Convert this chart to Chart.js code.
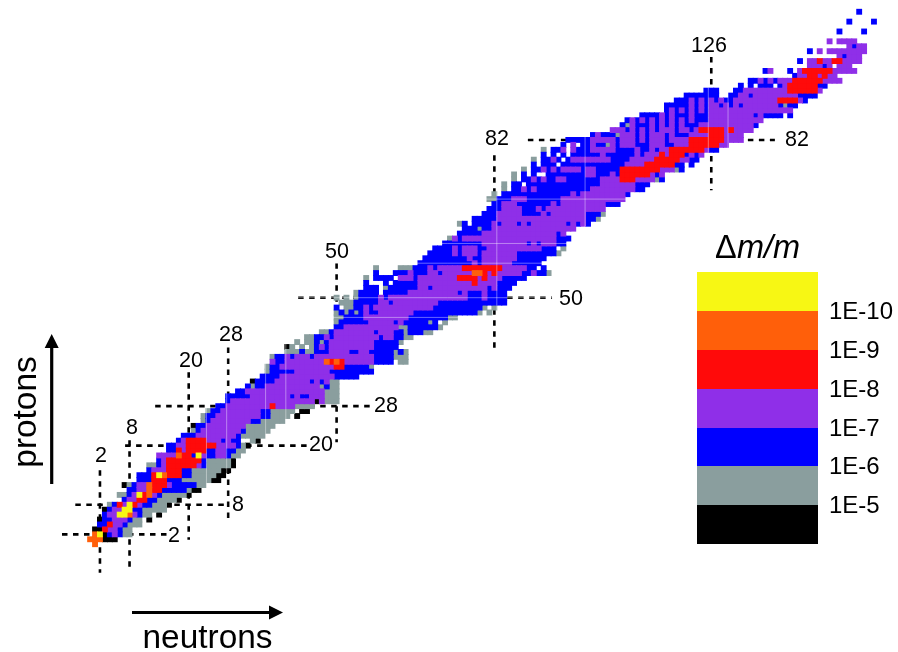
<!DOCTYPE html>
<html>
<head>
<meta charset="utf-8">
<style>
html, body { margin: 0; padding: 0; background: #fff; }
canvas { display: block; }
</style>
<script src="https://cdn.jsdelivr.net/npm/chart.js@4/dist/chart.umd.min.js"></script>
</head>
<body>
<canvas id="chart" width="898" height="652"></canvas>
<script>
// one entry per proton number Z (index), runs of "<class><first N>-<last N>"
const rowsByProton = [
  'o1',
  'o0-2 k3-5',
  'o1 y2 k3 b4 p5 b6 g7-8',
  'k1-2 r3 p4-5 b6 g7-8',
  'b2-3 r4 p5-6 b7 g8-10',
  'k2 b3-4 p5-7 b8 g9-10 k12',
  'b3 p4-5 y6-7 o8 p9 b10 g11-12 k14',
  'k3 b4 p5-6 y7-8 b9-10 g11-15',
  'g4 b5 r6 p7 y8 r9 p10 b11-12 g13-15 k16',
  'b7 p8-9 r10-11 b12-13 g14-17 k18',
  'g6-7 b8 p9 y10 r11 o12 p13 b14 g15-19 k20',
  'b8-9 p10-11 o12 r13-14 b15-19 g20 k21-22',
  'k7 g8 b9 p10-11 o12 r13-15 p16 b17-21 g22-23',
  'b10-12 r13-15 b16-18 g19-24 k25-26',
  'b10-12 r13 y14 o15 r16-18 b19-20 g21-25 k26-27',
  'b12 p13-15 r16-18 b19-20 g21-26 k27-28',
  'g12-13 b14 p15 r16-21 p22 b23 g24-28 k29',
  'b14 p15 r16-22 b23 g24-28 k29',
  'p14-17 o18 r19-20 b21 y22 p23 b24-25 p26-27 b28 g29-30',
  'b16-17 r18 p19 r20-23 b24-25 p26-27 b28-29 g30-31',
  'b16-17 p18-19 r20-25 p26-29 b30 g31 k32',
  'b18 p19 r20-23 p24-26 b27 p28 b29-30 g33 k34',
  'b19-21 p22-29 b30 g31-35',
  'g21 b22 p23-30 b31 g32-36',
  'k21 b22-23 p24-31 g32-37',
  'g23 b24 p25-32 b33-34 g35-39',
  'g23 b24-25 p26-34 b35-36 g37-40 k42',
  'g24 b25-26 p27-34 b35-36 g37-41 k43-44',
  'b26-27 p28-36 r37 p38-41 g42-45',
  'b28 p29-45 k46 p47 g48-50',
  'b28-32 p33-40 b41 p42 b43-44 p45-47 g48-50',
  'b30-31 p32-47 g48-50',
  'b32 g33 b34-35 p36-46 g47 b48 g49-50',
  'k33 b34-37 p38-44 b45 p46 b47 p48 g49-50',
  'b35-38 p39-49 b50-54',
  'g36 b37-41 p42-48 b49-57',
  'g36 b37-38 p39-49 r50-51 b52-56 g57',
  'p37 b38-39 p40-47 o48 r49 o50 r51 p52-57 b58-61 g63-64',
  'g37 b38-39 p40 b41 p42-44 b45 p46-57 b58-61 g62-64',
  'g40-42 b43 g44-45 b46-48 p49-52 b53-54 p55-56 b57-61 g62 b63 g64',
  'k40 g41 g43 g45 b46 p47 b48 p49-57 b58-62',
  'g42 g44-45 b46 g47 b48 p49-57 b58-62 g63',
  'g44-45 b46-47 p48 b49 p50-58 b59 p60-61 b62-63 g64-65',
  'g47-48 b49 p50-57 b58 p59-61 b62-63 g64 b65-67 g68-69',
  'b50-51 p52-62 g63-64 b65-70 g71',
  'g50 b51-56 p57-61 b62 p63 b64-68 g69 b70 g72',
  'g50-51 b52-55 p56-64 b65-72 g73-74',
  'g50 b51 g52 b53 g54 b55 p56 b57-58 p59-65 b66-78 g79 g81',
  'b50 g52-53 b54-55 p56 b57 p58-69 b70-79 g80 g82',
  'g51-53 b54-58 p59-60 b61 p62-70 b71-84',
  'g50 g52 g54 b55-58 p59 b60 p61-76 b77-79 p80 b81-84',
  'g54 b55-58 b60-64 p65-74 b75 p76 b77-79 p80 b81-84',
  'b56-58 g60 b61-66 p67-68 b69 p70-80 b81 p82 b83-85',
  'b56 b60 b62-66 p67-77 r78 p79-82 b83-86',
  'g56 b58-61 p63-65 b66 p67-74 r75-78 p79 r80 p81-83 b84-88',
  'b58 b62-64 p65 b66-68 p69-70 b71 p72-77 o78-79 r80 p81 r82 p83-87 b88-89 p90 b91-92 g93',
  'g58 g63-65 b66-68 p69 b70 p71-75 r76-83 p84-88 b89-90 b92',
  'b67-77 p78 b79 p80-85 b86-91',
  'b68-76 p77 b78-79 p80-86 b87-92',
  'b69-73 p74 b75 p76-78 b79 p80-86 b87-94 g95',
  'b70-73 p74 b75 p76-78 b79-80 p81-91 b92-94 g96',
  'b72-79 p80-88 b89 p90 b91 p92-94 b95-96',
  'g73 p74 b75 p76-94 b95-97',
  'b75-79 p80-94 b95 p96',
  'b76-78 g79 b80-81 p82-98',
  'g75 b76 b78-81 p82 b83 p84-86 b87 p88 b89 p90-96 b97 p98 b99 p100 b101',
  'b78-82 p83-100 b101-102 g103',
  'b80-82 p83-87 b88-91 p92 b93 p94-100 b101-103 g104',
  'b81-83 p84-87 b88-90 p91 b92 p93-104',
  'b82-83 p84-86 b87-93 p94 b95 p96-104 b105-107',
  'g81-82 b83-85 p86-88 b89-95 p96-108',
  'g82 b84-97 p98 b99 p100-108 b109',
  'g84 b86-87 p88 b89 p90 b91-101 p102-110 b111-112',
  'g84 b86-87 b89-103 p104-110 b111-113',
  'g86 b88-89 p90 b91 p92 b93-94 p95-96 b97-103 p104-107 r108-110 p111-114 g115 b116',
  'g86 b88 b90 b93-100 p101-102 b103-105 p106 b107 r108-113 p114 b115 p116',
  'g88 b90-91 p92 b93 p94 b95 p96-99 b100 p101-102 b103-107 r108-115 p116-118 g119 b120',
  'b90 b92-94 b96-108 p109-112 r113-118 b119-120 b122',
  'g90 b92-93 p94 b95 b97 p98-105 b106-109 p110-114 r115-119 p120-121 b122-123',
  'b92 b94 b96 b98-103 p104 b105-110 p111 b112 p113-115 r116 p117 r118-120 b121 p122 b123 p124',
  'g92 b94-95 p96 p98 b99-101 p102-106 b107-110 p111 b112-113 p114 b115 p116-117 r118-124 p125 b126-127',
  'b96 p98 b100-101 p102 b103-104 g105 p106 b107 p108-110 b111-113 p114-116 b117-118 p119-121 r122-127 p128-129',
  'b97-101 p102-106 b107 p108-110 b111 p112 b113 p114-116 b117 p118-121 r122-128 p129-132',
  'b102 p103 b104-106 g107 p108-110 b111 p112 b113 p114-116 b117 p118 b119-121 p122-125 r126-128 p129-132',
  'p106-108 b109 p110 b111 p112 b113 p114 b115 p116-118 b119 p120-121 b122 p123 r124-128 p129 r130 p131-134',
  'b108 g109 p110 b111-113 p114 b115 p116 b117 p118 b119 p120 b121-123 p124-134 b135',
  'b109 p110 b111 p112 b113 p114 b115 p116 b117 p118 b119 p120 b121 p122 b123-125 p126-136',
  'b112-115 p116 b117 p118 b119-121 p122 b123-125 p126-134 b135 p136 b137-140 b142',
  'b117 p118 b119 p120 b121 p122 b123 p124 b125 p126-142',
  'b117-121 p122 b123 p124 b125 p126-127 b128 p129 b130 p131 b132 p133-139 b140 g141 b142-143',
  'b119-121 p122 b123 p124 b125 p126 b127 p128 b129-130 p131-139 r140-143 p144 b145',
  'b121-127 b130-131 p132-133 b134 p135-143 b144-147',
  'b125-127 b131-132 p133-141 r142-147 p148',
  'b132 b134 b136-138 b140 p141 r142-147 b148-149',
  'b134-135 p136 b137 p138 b139 p140-142 r143-148 p149-152',
  'b143 p144-145 r146-147 p148 r149 p150-151',
  'b137 p138 b142 p144 r145-150 p151-155',
  'p146-148 b149 p150 p152-154',
  'b144 p146-147 r148 p149-150 r151-152 p153-156',
  'p152 b153 p154-156',
  'b146 p148 p150-157',
  'p154 b155 p156-157',
  'p150 p152-155',
  '',
  'b152 b157',
  '',
  'b154 b159',
  '',
  'b156'
];

const classCodes = ['y', 'o', 'r', 'p', 'b', 'g', 'k'];
const classColors = ['#f7f714', '#ff5f0a', '#ff0a0a', '#8f2fe8', '#0000ff', '#8a9e9e', '#000000'];
const legendTicks = ['1E-10', '1E-9', '1E-8', '1E-7', '1E-6', '1E-5'];

// [N from, Z from, N to, Z to]
const shellLines = [
  [-5.7, 2, 15.6, 2],
  [2, 15, 2, -5.8],
  [-3, 8, 27.4, 8],
  [8, 21.1, 8, -4.8],
  [7.1, 20, 44.2, 20],
  [20, 34.9, 20, 0.9],
  [13.2, 28, 56.8, 28],
  [28, 39.9, 28, 4.9],
  [42.2, 50, 93.7, 50],
  [50, 57, 50, 20.7],
  [88.8, 82, 138.9, 82],
  [82, 78.9, 82, 39.8],
  [126, 98.8, 126, 71.8]
];
// faint seams in the original artwork
const seamNeutrons = [23.6, 27.7, 35.6, 39.7, 82.5, 100.4, 125.4, 129.4];
const seamProtons = [50, 46, 61, 57, 70];

const shellLabels = ['2', '2', '8', '8', '20', '20', '28', '28', '50', '50', '82', '82', '126'];
const shellLabelPlaces = [
  [101, 456], [174, 536], [132, 428], [238, 505], [191, 361], [321, 445], [231, 335],
  [386, 406], [337, 252], [571, 299], [497, 139], [797, 140], [709, 46]
];

const xPerN = 4.93, yPerZ = 4.93, xAtZero = 90.1, yAtZero = 544.2;

const cellSets = classCodes.map(() => []);
rowsByProton.forEach((row, z) => {
  row.split(' ').filter(Boolean).forEach(run => {
    const m = run.match(/^([a-z])(\d+)(?:-(\d+))?$/);
    const first = +m[2], last = m[3] ? +m[3] : first;
    for (let n = first; n <= last; n++) {
      cellSets[classCodes.indexOf(m[1])].push({ x: n, y: z });
    }
  });
});

const lineSets = shellLines.map(l => ({
  type: 'line',
  data: [{ x: l[0], y: l[1] }, { x: l[2], y: l[3] }],
  borderColor: '#000',
  borderWidth: 2.6,
  borderDash: [5.5, 5.5],
  pointRadius: 0,
  order: 20
}));

const seamStyle = { type: 'line', borderColor: 'rgba(255,255,255,0.4)', borderWidth: 1, pointRadius: 0, order: 1 };
const seamSets = seamNeutrons.map(n => ({ ...seamStyle, data: [{ x: n, y: -20 }, { x: n, y: 110 }] }))
  .concat(seamProtons.map(z => ({ ...seamStyle, data: [{ x: -18, y: z }, { x: 163, y: z }] })));

// slightly oversized so neighbouring squares leave no antialiased gap
const cellDatasets = cellSets.map((cells, i) => ({
  data: cells,
  pointStyle: 'rect',
  pointRadius: 4.15,
  pointHoverRadius: 4.15,
  pointBackgroundColor: classColors[i],
  pointBorderWidth: 0,
  showLine: false,
  order: 10
}));

function drawArrow(ctx, x1, y1, x2, y2) {
  const a = Math.atan2(y2 - y1, x2 - x1);
  ctx.strokeStyle = '#000';
  ctx.fillStyle = '#000';
  ctx.lineWidth = 3.2;
  ctx.beginPath();
  ctx.moveTo(x1, y1);
  ctx.lineTo(x2 - 10 * Math.cos(a), y2 - 10 * Math.sin(a));
  ctx.stroke();
  ctx.beginPath();
  ctx.moveTo(x2, y2);
  ctx.lineTo(x2 - 14 * Math.cos(a) + 7 * Math.sin(a), y2 - 14 * Math.sin(a) - 7 * Math.cos(a));
  ctx.lineTo(x2 - 14 * Math.cos(a) - 7 * Math.sin(a), y2 - 14 * Math.sin(a) + 7 * Math.cos(a));
  ctx.closePath();
  ctx.fill();
}

const overlay = {
  id: 'overlay',
  afterDatasetsDraw(chart) {
    const ctx = chart.ctx;
    ctx.save();
    ctx.fillStyle = '#000';
    ctx.textBaseline = 'middle';

    // shell numbers
    ctx.textAlign = 'center';
    ctx.font = '21.5px "Liberation Sans"';
    shellLabels.forEach((t, i) => {
      ctx.fillText(t, shellLabelPlaces[i][0], shellLabelPlaces[i][1]);
    });

    // legend bar
    const tops = [272, 311, 350, 389, 428, 466, 505, 544];
    classColors.forEach((c, i) => {
      ctx.fillStyle = c;
      ctx.fillRect(697, tops[i], 121, tops[i + 1] - tops[i]);
    });
    ctx.fillStyle = '#000';
    ctx.textAlign = 'left';
    ctx.font = '24px "Liberation Sans"';
    legendTicks.forEach((t, i) => {
      ctx.fillText(t, 829, tops[i + 1] + 1);
    });

    // legend title
    ctx.font = '32.5px "Liberation Sans"';
    ctx.fillText('\u0394', 715, 249);
    ctx.font = 'italic 32.5px "Liberation Sans"';
    ctx.fillText('m/m', 737, 249);

    // axis titles
    ctx.textAlign = 'center';
    ctx.textBaseline = 'alphabetic';
    ctx.font = '33.4px "Liberation Sans"';
    ctx.fillText('neutrons', 207.5, 648);
    ctx.save();
    ctx.translate(36, 412);
    ctx.rotate(-Math.PI / 2);
    ctx.fillText('protons', 0, 0);
    ctx.restore();

    drawArrow(ctx, 132, 612.5, 283, 612.5);
    drawArrow(ctx, 51.7, 484, 51.7, 334);
    ctx.restore();
  }
};

new Chart(document.getElementById('chart'), {
  type: 'scatter',
  data: { datasets: lineSets.concat(cellDatasets, seamSets) },
  options: {
    responsive: false,
    animation: false,
    events: [],
    layout: { autoPadding: false, padding: 0 },
    plugins: { legend: { display: false }, tooltip: { enabled: false } },
    scales: {
      x: { type: 'linear', display: false, min: -xAtZero / xPerN, max: (898 - xAtZero) / xPerN },
      y: { type: 'linear', display: false, min: (yAtZero - 652) / yPerZ, max: yAtZero / yPerZ }
    }
  },
  plugins: [overlay]
});
</script>
</body>
</html>
